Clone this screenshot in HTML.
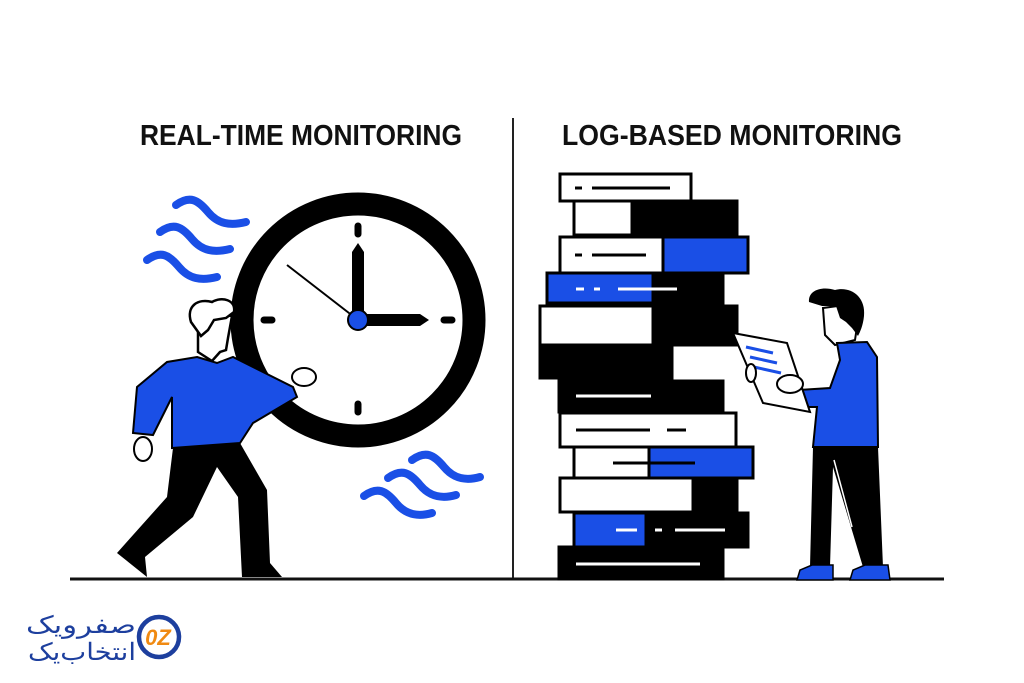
<!DOCTYPE html>
<html><head><meta charset="utf-8"><style>html,body{margin:0;padding:0;background:#fff}svg{display:block}</style></head>
<body>
<svg width="1024" height="683" viewBox="0 0 1024 683" xmlns="http://www.w3.org/2000/svg">
<rect width="1024" height="683" fill="#fff"/>
<g font-family="'Liberation Sans Narrow','Liberation Sans',sans-serif" font-weight="bold" font-size="29" fill="#111">
<text x="140" y="145" textLength="322" lengthAdjust="spacingAndGlyphs">REAL-TIME MONITORING</text>
<text x="562" y="145" textLength="340" lengthAdjust="spacingAndGlyphs">LOG-BASED MONITORING</text>
</g>
<line x1="513" y1="118" x2="513" y2="580" stroke="#222" stroke-width="2"/>
<line x1="70" y1="579" x2="944" y2="579" stroke="#111" stroke-width="3"/>
<g fill="none" stroke="#1a4fe6" stroke-width="8" stroke-linecap="round">
<path d="M176,205 C190,195 198,200 208,212 C218,224 230,226 246,222"/>
<path d="M160,232 C174,222 182,227 192,239 C202,251 214,253 230,249"/>
<path d="M147,260 C161,250 169,255 179,267 C189,279 201,281 217,277"/>
<path d="M412,460 C426,450 434,455 444,467 C454,479 466,481 480,477"/>
<path d="M388,478 C402,468 410,473 420,485 C430,497 442,499 456,495"/>
<path d="M364,496 C378,486 386,491 396,503 C406,515 418,517 432,513"/>
</g>
<circle cx="358" cy="320" r="116" fill="#fff" stroke="#000" stroke-width="23"/>
<g stroke="#000" stroke-width="7" stroke-linecap="round">
<line x1="358" y1="226" x2="358" y2="234"/><line x1="358" y1="404" x2="358" y2="412"/>
<line x1="264" y1="320" x2="272" y2="320"/><line x1="444" y1="320" x2="452" y2="320"/>
</g>
<line x1="287" y1="265" x2="358" y2="320" stroke="#000" stroke-width="2"/>
<polygon points="352,320 352,252 358,243 364,252 364,320" fill="#000"/>
<polygon points="358,314 420,314 429,320 420,326 358,326" fill="#000"/>
<circle cx="358" cy="320" r="10" fill="#1a4fe6" stroke="#000" stroke-width="2"/>
<!-- person 1 -->
<polygon points="173,448 240,443 267,490 270,563 282,577 242,577 238,497 217,467 193,517 145,557 147,577 117,553 167,497" fill="#000"/>
<path d="M198,325 L198,352 L212,361 L220,352 L226,350 L228,338 L232,316 L200,312 Z" fill="#fff" stroke="#000" stroke-width="2.5"/>
<path d="M191,322 C186,306 198,298 212,302 C222,296 236,300 234,312 L226,318 L214,320 L208,330 L201,336 Z" fill="#fff" stroke="#000" stroke-width="2.5"/>
<polygon points="197,357 217,363 233,357 293,387 297,397 253,423 240,443 172,448 172,397 153,435 133,433 137,387 167,362" fill="#1a4fe6" stroke="#000" stroke-width="2"/>
<ellipse cx="143" cy="449" rx="9" ry="12" fill="#fff" stroke="#000" stroke-width="2"/>
<ellipse cx="304" cy="377" rx="12" ry="9" fill="#fff" stroke="#000" stroke-width="2"/>
<!-- stack -->
<g stroke="#000" stroke-width="3">
<rect x="560" y="174" width="131" height="27" fill="#fff"/>
<rect x="574" y="201" width="163" height="34" fill="#000"/><rect x="574" y="201" width="58" height="34" fill="#fff"/>
<rect x="560" y="237" width="188" height="36" fill="#1a4fe6"/><rect x="560" y="237" width="103" height="36" fill="#fff"/>
<rect x="547" y="273" width="176" height="30" fill="#000"/><rect x="547" y="273" width="106" height="30" fill="#1a4fe6"/>
<rect x="540" y="306" width="197" height="39" fill="#000"/><rect x="540" y="306" width="113" height="39" fill="#fff"/>
<rect x="540" y="345" width="132" height="33" fill="#000"/>
<rect x="559" y="381" width="164" height="31" fill="#000"/>
<rect x="560" y="413" width="176" height="34" fill="#fff"/>
<rect x="574" y="447" width="179" height="31" fill="#1a4fe6"/><rect x="574" y="447" width="75" height="31" fill="#fff"/>
<rect x="560" y="478" width="177" height="34" fill="#000"/><rect x="560" y="478" width="133" height="34" fill="#fff"/>
<rect x="574" y="513" width="174" height="34" fill="#000"/><rect x="574" y="513" width="72" height="34" fill="#1a4fe6"/>
<rect x="559" y="547" width="164" height="32" fill="#000"/>
</g>
<g stroke-width="3">
<line x1="575" y1="188" x2="582" y2="188" stroke="#000"/><line x1="592" y1="188" x2="670" y2="188" stroke="#000"/>
<line x1="575" y1="255" x2="582" y2="255" stroke="#000"/><line x1="592" y1="255" x2="646" y2="255" stroke="#000"/>
<line x1="576" y1="289" x2="584" y2="289" stroke="#fff"/><line x1="594" y1="289" x2="600" y2="289" stroke="#fff"/><line x1="618" y1="289" x2="677" y2="289" stroke="#fff"/>
<line x1="576" y1="396" x2="651" y2="396" stroke="#fff"/>
<line x1="576" y1="430" x2="650" y2="430" stroke="#000"/><line x1="667" y1="430" x2="686" y2="430" stroke="#000"/>
<line x1="613" y1="463" x2="695" y2="463" stroke="#000"/>
<line x1="616" y1="530" x2="637" y2="530" stroke="#fff"/><line x1="655" y1="530" x2="662" y2="530" stroke="#fff"/><line x1="675" y1="530" x2="725" y2="530" stroke="#fff"/>
<line x1="576" y1="564" x2="700" y2="564" stroke="#fff"/>
</g>
<!-- person 2 -->
<polygon points="813,447 878,447 883,567 863,567 833,467 830,567 810,567" fill="#000"/>
<line x1="834" y1="460" x2="852" y2="527" stroke="#fff" stroke-width="1.5"/>
<path d="M797,580 L800,570 L812,565 L833,565 L833,580 Z" fill="#1a4fe6" stroke="#000" stroke-width="1.5"/>
<path d="M850,580 L853,570 L865,565 L888,565 L890,580 Z" fill="#1a4fe6" stroke="#000" stroke-width="1.5"/>
<path d="M823,308 L825,335 L835,345 L855,340 L858,320 L845,305 Z" fill="#fff" stroke="#000" stroke-width="2"/>
<path d="M809,302 C808,290 822,286 835,290 C850,286 866,296 864,316 C863,326 860,332 858,336 L852,328 L846,322 L840,318 L836,306 L822,306 Z" fill="#000"/>
<polygon points="837,343 867,342 877,357 878,447 813,447 817,407 803,407 798,390 830,388 840,360" fill="#1a4fe6" stroke="#000" stroke-width="2"/>
<polygon points="733,333 787,343 810,412 763,403" fill="#fff" stroke="#000" stroke-width="2"/>
<g stroke="#1a4fe6" stroke-width="3"><line x1="746" y1="347" x2="773" y2="353"/><line x1="750" y1="357" x2="777" y2="363"/><line x1="754" y1="367" x2="781" y2="373"/></g>
<ellipse cx="790" cy="384" rx="13" ry="9" fill="#fff" stroke="#000" stroke-width="2"/>
<ellipse cx="751" cy="373" rx="5" ry="9" fill="#fff" stroke="#000" stroke-width="2"/>
<!-- logo -->
<circle cx="159" cy="637" r="20" fill="none" stroke="#1d3f9e" stroke-width="4.5"/>
<text x="158" y="645" font-family="'Liberation Sans',sans-serif" font-weight="bold" font-style="italic" font-size="22" fill="#f08a12" text-anchor="middle">0Z</text>
<g font-family="'Liberation Sans','Noto Sans CJK SC',sans-serif" font-size="24" fill="#1d3f9e" text-anchor="end">
<text x="136" y="633" textLength="110" lengthAdjust="spacingAndGlyphs">صفرویک</text>
<text x="136" y="660" textLength="108" lengthAdjust="spacingAndGlyphs">انتخاب‌یک</text>
</g>
</svg>
</body></html>
